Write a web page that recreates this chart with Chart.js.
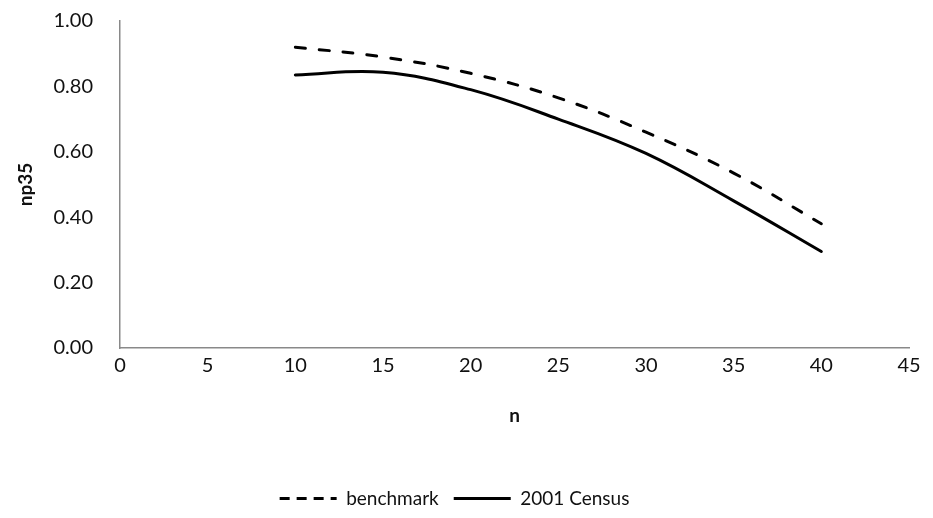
<!DOCTYPE html>
<html>
<head>
<meta charset="utf-8">
<script src="https://cdn.jsdelivr.net/npm/chart.js@4"></script>
<style>
  html, body { margin: 0; padding: 0; background: #fff; }
  #wrap { width: 933px; height: 518px; }
</style>
</head>
<body>
<div id="wrap"><canvas id="chart" width="933" height="518"></canvas></div>
<script>
// Values
const nValues = [10, 15, 20, 25, 30, 35, 40];
const benchmark = [0.92, 0.89, 0.84, 0.765, 0.66, 0.535, 0.38];
const census2001 = [0.835, 0.843, 0.79, 0.70, 0.595, 0.45, 0.295];
const xTicks = [0, 5, 10, 15, 20, 25, 30, 35, 40, 45];
const yTicks = [0, 0.2, 0.4, 0.6, 0.8, 1.0];

const toPoints = (ys) => nValues.map((n, i) => ({ x: n, y: ys[i] }));

const axisColor = '#898989';
const textColor = '#111';
Chart.defaults.font.family = 'Lato, "Open Sans", sans-serif';
Chart.defaults.font.size = 20;
Chart.defaults.color = textColor;

// legend keeps the dash of each line
const legendLabels = (chart) =>
    Chart.defaults.plugins.legend.labels.generateLabels(chart).map((item, i) => ({
        ...item,
        lineDash: chart.data.datasets[i].borderDash ? [10, 7] : [],
        lineWidth: 3,
        strokeStyle: '#000',
        fillStyle: '#000'
    }));

new Chart(document.getElementById('chart'), {
    type: 'line',
    data: {
        datasets: [
            {
                label: 'benchmark',
                data: toPoints(benchmark),
                borderColor: '#000',
                backgroundColor: '#000',
                borderWidth: 3,
                borderDash: [10, 14],
                borderCapStyle: 'round',
                tension: 0.4,
                pointRadius: 0,
                pointStyle: 'line',
            },
            {
                label: '2001 Census',
                data: toPoints(census2001),
                borderColor: '#000',
                backgroundColor: '#000',
                borderWidth: 3,
                borderCapStyle: 'round',
                tension: 0.4,
                pointRadius: 0,
                pointStyle: 'line',
            }
        ]
    },
    options: {
        responsive: false,
        animation: false,
        layout: {
            padding: { top: 21, right: 24, left: 0, bottom: 0 }
        },
        plugins: {
            legend: {
                position: 'bottom',
                labels: {
                    usePointStyle: true,
                    pointStyleWidth: 57,
                    boxWidth: 48,
                    padding: 15,
                    color: textColor,
                    font: { size: 19 },
                    generateLabels: legendLabels
                }
            },
            tooltip: { enabled: false }
        },
        scales: {
            x: {
                type: 'linear',
                min: 0,
                max: 45,
                afterBuildTicks: (scale) => { scale.ticks = xTicks.map(v => ({ value: v })); },
                afterFit: (scale) => { scale.height = 126; scale.paddingLeft = 0; scale.paddingRight = 0; },
                grid: { display: false, drawTicks: false },
                border: { color: axisColor, width: 1.5 },
                ticks: { padding: 6, color: textColor },
                title: {
                    display: true,
                    text: 'n',
                    font: { size: 19, weight: 'bold' },
                    color: textColor,
                    padding: { top: 0, bottom: 47 }
                }
            },
            y: {
                min: 0,
                max: 1,
                afterBuildTicks: (scale) => { scale.ticks = yTicks.map(v => ({ value: v })); },
                afterFit: (scale) => { scale.width = 120; scale.paddingTop = 0; scale.paddingBottom = 0; },
                grid: { display: false, drawTicks: false },
                border: { color: axisColor, width: 1.5 },
                ticks: {
                    padding: 27,
                    color: textColor,
                    callback: (v) => Number(v).toFixed(2)
                },
                title: {
                    display: true,
                    text: 'np35',
                    font: { size: 19, weight: 'bold' },
                    color: textColor,
                    padding: { top: 14, bottom: 0 }
                }
            }
        }
    }
});
</script>
</body>
</html>
